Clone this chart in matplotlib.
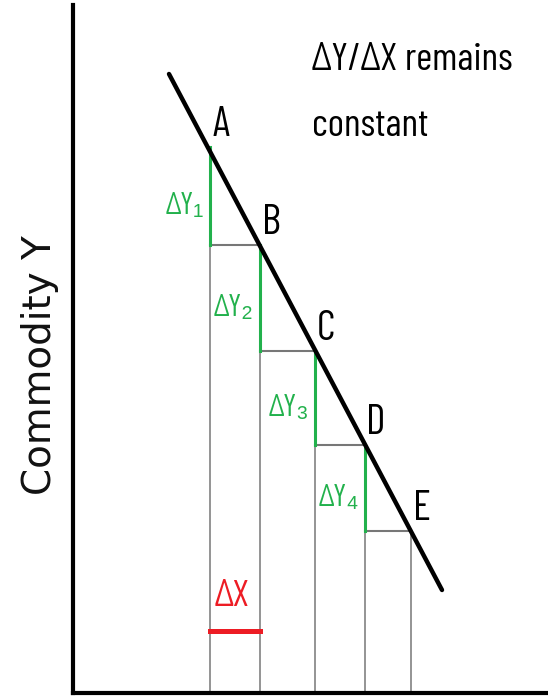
import matplotlib
matplotlib.use("Agg")
import matplotlib.pyplot as plt

# points on the line (arbitrary units)
labels = ["A", "B", "C", "D", "E"]
px = [2.74, 3.74, 4.84, 5.84, 6.76]
py = [10.92, 8.96, 6.84, 4.96, 3.24]
dy_labels = ["ΔY₁", "ΔY₂", "ΔY₃", "ΔY₄"]

# the drawn line runs a little past A and E
line_x = [1.92, 7.38]
line_y = [12.38, 2.06]

dx_bar_y = 1.24

narrow = ["Barlow Condensed", "Liberation Sans", "DejaVu Sans"]
green = "#22b14c"
red = "#ed1c24"
gray = "#777777"

fig = plt.figure(figsize=(5.48, 6.98), dpi=100)
ax = fig.add_axes([0.1332, 0.00716, 0.8668, 0.9857])
ax.set_xlim(0, 9.5)
ax.set_ylim(0, 13.76)

# gray verticals down to the x axis and horizontal steps
for i in range(len(px)):
    top = py[i + 1] if i + 1 < len(py) else py[i]
    ax.plot([px[i], px[i]], [0, top], color=gray, lw=1.1, zorder=1)
for i in range(len(px) - 1):
    ax.plot([px[i], px[i + 1]], [py[i + 1], py[i + 1]], color=gray, lw=1.5, zorder=1)

# green delta-Y segments
for i in range(len(px) - 1):
    ax.plot([px[i], px[i]], [py[i + 1], py[i]], color=green, lw=2.2, zorder=2)
    ax.annotate(dy_labels[i], xy=(px[i], (py[i] + py[i + 1]) / 2),
                xytext=(-6, -10), textcoords="offset pixels",
                ha="right", va="center", color=green, fontsize=22, family=narrow)

# the straight line
ax.plot(line_x, line_y, color="black", lw=3.2, solid_capstyle="round", zorder=3)

for lab, x, y in zip(labels, px, py):
    ax.annotate(lab, xy=(x, y), xytext=(11, 21), textcoords="offset pixels",
                ha="center", va="center", fontsize=30, family=narrow)

# delta X
ax.plot([px[0], px[1]], [dx_bar_y, dx_bar_y], color=red, lw=3.6, zorder=2)
ax.annotate("ΔX", xy=((px[0] + px[1]) / 2, dx_bar_y), xytext=(-3, 35),
            textcoords="offset pixels", ha="center", va="center",
            color=red, fontsize=27, family=narrow)

ax.text(0.503, 0.945, "ΔY/ΔX remains\nconstant", transform=ax.transAxes,
        ha="left", va="top", fontsize=28, linespacing=2.15, family=narrow)

ax.set_ylabel("Commodity Y", fontsize=28, color="#111111", family="DejaVu Sans")
ax.yaxis.set_label_coords(-0.03, 0.477)

for side in ["top", "right"]:
    ax.spines[side].set_visible(False)
for side in ["left", "bottom"]:
    ax.spines[side].set_linewidth(3)
ax.set_xticks([])
ax.set_yticks([])

fig.savefig("out.png", dpi=100)
